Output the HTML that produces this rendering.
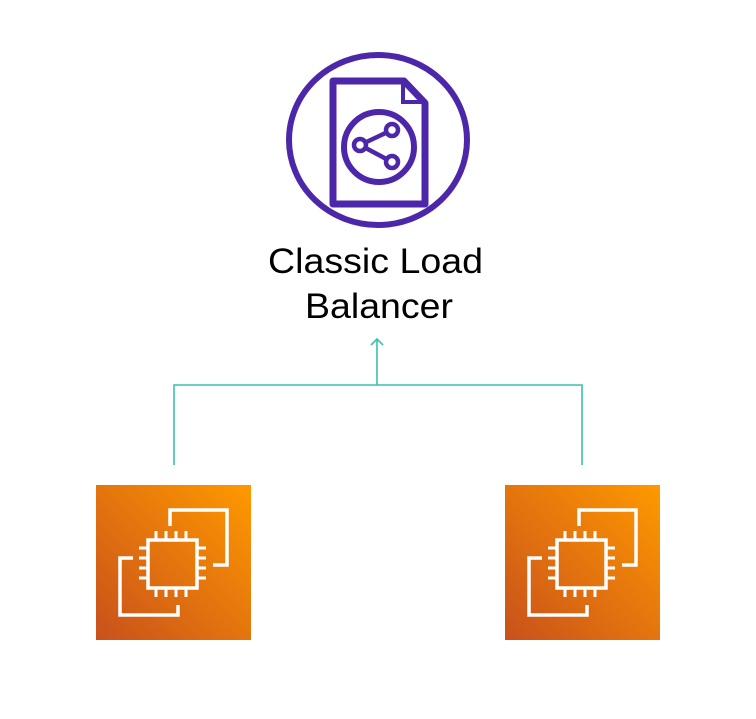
<!DOCTYPE html>
<html><head><style>body{margin:0;background:#fff}</style></head><body>
<svg width="756" height="714" viewBox="0 0 756 714" xmlns="http://www.w3.org/2000/svg">
<defs>
<linearGradient id="g" x1="0" y1="1" x2="1" y2="0">
<stop offset="0" stop-color="#C8511B"/><stop offset="1" stop-color="#FF9900"/>
</linearGradient>
<g id="ec2" fill="none" stroke="#fff" stroke-width="3.5">
<polyline points="74,41 74,25 131,25 131,80 117,80"/>
<polyline points="37,73 24,73 24,130 82,130 82,120"/>
<rect x="52" y="55" width="49" height="48"/>
<g stroke-width="3">
<path d="M60,55v-9M70,55v-9M80,55v-9M90,55v-9M60,103v9M70,103v9M80,103v9M90,103v9M52,63h-9M52,73h-9M52,83h-9M52,93h-9M101,63h9M101,73h9M101,83h9M101,93h9"/>
</g>
</g>
</defs>
<ellipse cx="378" cy="140" rx="89" ry="85" fill="none" stroke="#4D27AA" stroke-width="6"/>
<path d="M333,81 H404 L425,103 V204 H333 Z" fill="none" stroke="#4D27AA" stroke-width="7" stroke-linejoin="round"/>
<path d="M403,82 V102 H424" fill="none" stroke="#4D27AA" stroke-width="4"/>
<circle cx="379" cy="147" r="35" fill="none" stroke="#4D27AA" stroke-width="6"/>
<g stroke="#4D27AA" stroke-width="4.5" fill="none">
<line x1="360" y1="145" x2="392" y2="130"/><line x1="360" y1="145" x2="392" y2="162"/>
<circle cx="360" cy="145" r="6" fill="#fff"/><circle cx="392" cy="130" r="6" fill="#fff"/><circle cx="392" cy="162" r="6" fill="#fff"/>
</g>
<text x="268" y="273" font-family="Liberation Sans, sans-serif" font-size="35" textLength="215" lengthAdjust="spacingAndGlyphs" fill="#000">Classic Load</text>
<text x="305" y="318" font-family="Liberation Sans, sans-serif" font-size="35" textLength="148" lengthAdjust="spacingAndGlyphs" fill="#000">Balancer</text>
<g stroke="#3DBFAD" stroke-width="1.6" fill="none">
<polyline points="174,465 174,385 582,385 582,465"/>
<line x1="377" y1="385" x2="377" y2="339"/>
<polyline points="371,345 377,339 383,345"/>
</g>
<rect x="96" y="485" width="155" height="155" fill="url(#g)"/>
<use href="#ec2" x="96" y="485"/>
<rect x="505" y="485" width="155" height="155" fill="url(#g)"/>
<use href="#ec2" x="505" y="485"/>
</svg>
</body></html>
